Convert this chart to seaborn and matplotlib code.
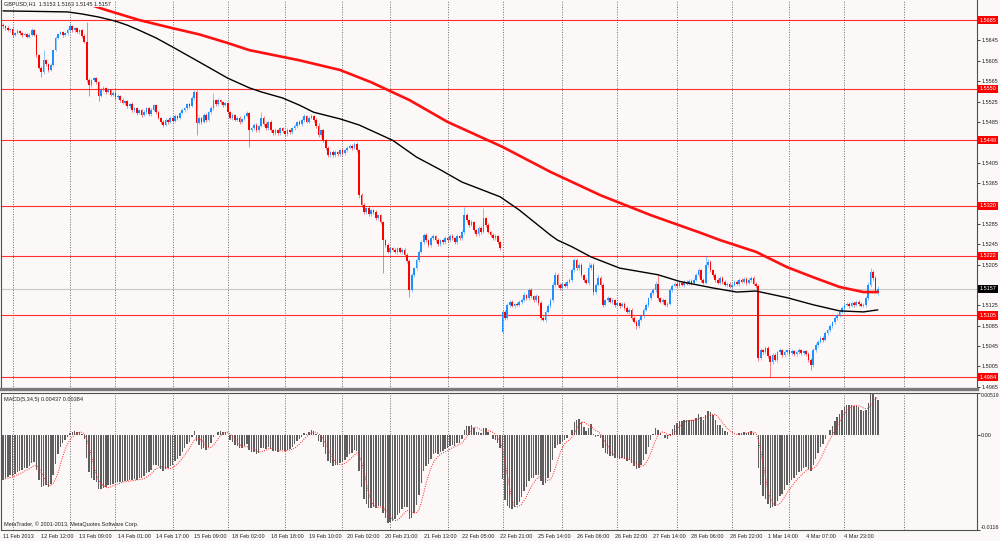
import numpy as np
import pandas as pd
import seaborn as sns
import matplotlib.pyplot as plt

# GBPUSD H1, closes in pips (1.5673 -> 15673), one row = 16 bars
close_pips = [
    15673, 15669, 15665, 15667, 15656, 15659, 15663, 15659, 15656, 15658, 15652, 15656, 15665, 15656, 15616, 15591,
    15583, 15606, 15599, 15587, 15597, 15626, 15650, 15658, 15661, 15656, 15659, 15665, 15673, 15665, 15669, 15661,
    15665, 15654, 15642, 15567, 15557, 15567, 15571, 15563, 15536, 15548, 15552, 15544, 15548, 15538, 15542, 15534,
    15536, 15528, 15522, 15526, 15516, 15520, 15508, 15512, 15502, 15508, 15499, 15504, 15512, 15500, 15508, 15518,
    15504, 15493, 15485, 15479, 15489, 15485, 15493, 15487, 15497, 15493, 15502, 15508, 15512, 15520, 15516, 15532,
    15544, 15483, 15493, 15485, 15499, 15489, 15504, 15512, 15528, 15520, 15528, 15524, 15518, 15522, 15504, 15493,
    15499, 15489, 15493, 15485, 15491, 15497, 15502, 15469, 15473, 15479, 15469, 15477, 15493, 15481, 15473, 15485,
    15469, 15463, 15469, 15463, 15473, 15467, 15461, 15469, 15465, 15473, 15477, 15485, 15481, 15489, 15497, 15485,
    15493, 15497, 15489, 15477, 15459, 15469, 15449, 15434, 15420, 15426, 15420, 15426, 15422, 15429, 15424, 15429,
    15434, 15438, 15434, 15442, 15429, 15341, 15322, 15308, 15316, 15304, 15312, 15308, 15296, 15302, 15288, 15253,
    15243, 15230, 15237, 15234, 15230, 15237, 15230, 15234, 15224, 15212, 15155, 15184, 15198, 15214, 15230, 15249,
    15263, 15253, 15243, 15257, 15261, 15253, 15245, 15253, 15249, 15257, 15253, 15261, 15257, 15249, 15261, 15257,
    15269, 15302, 15292, 15283, 15288, 15273, 15265, 15277, 15269, 15296, 15283, 15269, 15263, 15257, 15261, 15249,
    15237, 15112, 15101, 15126, 15132, 15124, 15128, 15126, 15132, 15135, 15145, 15139, 15155, 15143, 15135, 15143,
    15129, 15101, 15097, 15112, 15124, 15135, 15165, 15184, 15165, 15159, 15167, 15163, 15171, 15175, 15194, 15214,
    15198, 15204, 15184, 15175, 15169, 15198, 15204, 15151, 15165, 15179, 15165, 15126, 15135, 15139, 15132, 15135,
    15126, 15129, 15124, 15128, 15120, 15112, 15116, 15101, 15093, 15085, 15097, 15104, 15116, 15126, 15139, 15149,
    15155, 15167, 15139, 15132, 15135, 15126, 15128, 15155, 15163, 15167, 15163, 15169, 15165, 15171, 15167, 15173,
    15169, 15175, 15184, 15194, 15175, 15169, 15204, 15210, 15194, 15184, 15175, 15169, 15179, 15171, 15165, 15167,
    15161, 15165, 15171, 15167, 15175, 15171, 15177, 15169, 15175, 15179, 15167, 15163, 15022, 15037, 15033, 15041,
    15025, 15013, 15027, 15018, 15033, 15037, 15027, 15033, 15037, 15031, 15035, 15029, 15033, 15037, 15031, 15035,
    15029, 15018, 15008, 15037, 15047, 15053, 15061, 15057, 15071, 15076, 15084, 15092, 15100, 15106, 15112, 15120,
    15126, 15128, 15124, 15130, 15126, 15132, 15128, 15124, 15126, 15139, 15165, 15190, 15179, 15153, 15157,
]
# upper / lower shadow length in pips
wick_up = [
    3, 2, 4, 2, 3, 2, 4, 3, 2, 3, 2, 4, 4, 3, 2, 3,
    3, 20, 3, 2, 4, 3, 4, 2, 3, 2, 3, 4, 6, 3, 2, 3,
    3, 2, 3, 39, 4, 3, 2, 3, 2, 4, 3, 2, 3, 2, 4, 3,
    3, 2, 4, 3, 2, 3, 4, 2, 3, 3, 2, 4, 3, 2, 4, 3,
    2, 3, 2, 4, 3, 2, 3, 3, 4, 2, 3, 4, 3, 2, 3, 4,
    4, 3, 3, 2, 4, 3, 3, 4, 13, 3, 4, 2, 3, 3, 2, 3,
    3, 2, 4, 3, 2, 3, 4, 3, 2, 4, 3, 2, 11, 3, 3, 2,
    3, 2, 4, 3, 2, 3, 3, 4, 2, 3, 3, 2, 4, 3, 3, 2,
    3, 4, 2, 3, 6, 3, 2, 3, 3, 2, 4, 3, 2, 3, 4, 2,
    3, 4, 3, 3, 4, 3, 4, 3, 2, 4, 3, 2, 4, 3, 2, 3,
    3, 4, 2, 3, 4, 3, 2, 3, 4, 3, 3, 4, 3, 4, 3, 4,
    4, 3, 3, 4, 3, 2, 4, 3, 3, 4, 2, 3, 4, 3, 3, 2,
    3, 16, 4, 3, 4, 3, 2, 4, 3, 20, 3, 3, 2, 4, 3, 2,
    3, 3, 4, 3, 4, 3, 2, 4, 3, 5, 6, 3, 4, 3, 3, 4,
    3, 4, 3, 4, 3, 4, 5, 6, 4, 3, 4, 3, 4, 4, 5, 4,
    4, 5, 4, 3, 4, 12, 5, 4, 4, 5, 3, 4, 3, 5, 3, 4,
    3, 4, 3, 3, 4, 3, 3, 4, 3, 3, 4, 3, 4, 4, 3, 4,
    4, 6, 18, 3, 4, 3, 3, 4, 3, 4, 3, 3, 4, 3, 3, 4,
    3, 4, 4, 5, 3, 4, 18, 5, 4, 3, 4, 3, 4, 3, 3, 4,
    3, 4, 3, 3, 4, 3, 4, 3, 4, 3, 3, 3, 3, 4, 3, 5,
    4, 3, 5, 4, 3, 4, 3, 4, 3, 3, 4, 3, 3, 4, 3, 3,
    3, 4, 3, 5, 4, 3, 4, 3, 4, 3, 4, 3, 4, 4, 3, 4,
    3, 4, 3, 4, 3, 3, 4, 3, 3, 4, 5, 8, 4, 3, 6,
]
wick_dn = [
    3, 4, 2, 3, 4, 3, 2, 3, 4, 2, 3, 3, 2, 3, 4, 3,
    10, 3, 4, 3, 2, 3, 2, 3, 3, 4, 2, 3, 3, 3, 4, 2,
    3, 4, 3, 3, 21, 3, 4, 3, 10, 3, 2, 4, 3, 3, 2, 4,
    3, 4, 2, 3, 4, 3, 3, 4, 3, 2, 4, 3, 3, 4, 3, 2,
    4, 3, 4, 3, 2, 4, 3, 3, 2, 4, 3, 2, 3, 4, 3, 2,
    3, 24, 3, 4, 3, 4, 2, 3, 3, 4, 3, 3, 4, 2, 4, 3,
    4, 3, 3, 4, 3, 2, 3, 33, 3, 4, 3, 3, 2, 4, 3, 3,
    4, 3, 3, 4, 3, 3, 4, 3, 3, 4, 3, 3, 2, 3, 4, 3,
    3, 3, 4, 3, 3, 4, 3, 4, 4, 3, 3, 4, 3, 3, 4, 3,
    3, 3, 4, 3, 3, 5, 4, 3, 4, 3, 3, 4, 3, 4, 3, 65,
    4, 3, 4, 3, 3, 4, 3, 4, 3, 4, 14, 4, 3, 4, 4, 3,
    4, 4, 3, 4, 3, 4, 3, 4, 3, 3, 4, 3, 3, 4, 3, 4,
    3, 4, 3, 4, 3, 4, 3, 3, 4, 3, 4, 3, 4, 3, 3, 4,
    4, 2, 4, 3, 4, 3, 4, 3, 3, 4, 3, 4, 3, 4, 3, 3,
    4, 4, 3, 4, 3, 4, 3, 4, 4, 3, 4, 3, 4, 3, 4, 4,
    4, 3, 4, 4, 3, 4, 3, 6, 4, 3, 4, 4, 3, 4, 3, 4,
    4, 3, 4, 3, 4, 3, 4, 4, 3, 6, 4, 3, 4, 3, 4, 3,
    4, 3, 4, 3, 4, 3, 4, 3, 4, 3, 4, 3, 3, 4, 3, 3,
    4, 3, 3, 4, 4, 3, 3, 4, 4, 3, 4, 3, 3, 4, 3, 4,
    3, 4, 3, 3, 4, 3, 3, 4, 3, 4, 3, 4, 6, 4, 3, 4,
    4, 28, 4, 3, 4, 3, 4, 3, 4, 3, 3, 4, 3, 4, 3, 4,
    4, 4, 10, 4, 3, 4, 3, 4, 3, 4, 3, 4, 4, 3, 4, 3,
    4, 3, 4, 3, 4, 3, 4, 3, 3, 4, 4, 5, 4, 3, 8,
]
# opens differ from previous close only here (first bar, weekend gap)
open_gaps = {0: 15676, 209: 15073}

# moving averages (bar index, pips)
ma_black_bars = [0, 14, 27, 33, 40, 47, 52, 57, 64, 71, 82, 94, 103, 108, 117, 124, 130, 141, 149, 163,
                 173, 183, 192, 208, 216, 229, 232, 238, 246, 258, 274, 283, 297, 307, 315, 328, 339,
                 350, 360, 366]
ma_black_pips = [15703, 15702, 15701, 15697, 15691, 15683, 15675, 15665, 15650, 15632, 15603, 15571,
                 15552, 15544, 15532, 15518, 15504, 15491, 15479, 15449, 15416, 15391, 15367, 15338,
                 15312, 15263, 15253, 15240, 15220, 15198, 15185, 15172, 15159, 15151, 15153, 15140,
                 15126, 15114, 15112, 15116]
ma_red_bars = [32, 43, 57, 71, 82, 94, 103, 124, 141, 154, 170, 186, 209, 229, 250, 271, 292, 300,
               315, 328, 339, 350, 360, 366]
ma_red_pips = [15722, 15705, 15685, 15669, 15657, 15640, 15626, 15606, 15587, 15563, 15528, 15485,
               15436, 15387, 15341, 15302, 15267, 15253, 15230, 15200, 15180, 15161, 15151, 15151]

levels = [1.5685, 1.5550, 1.5449, 1.5320, 1.5222, 1.5105, 1.4984]
bid = 1.5157
grid_bars = [4, 28, 47, 71, 94, 118, 142, 162, 186, 209, 234, 257, 282, 305, 329, 352, 377]
xlabels = ["11 Feb 2013", "12 Feb 12:00", "13 Feb 09:00", "14 Feb 01:00", "14 Feb 17:00",
           "15 Feb 09:00", "18 Feb 02:00", "18 Feb 18:00", "19 Feb 10:00", "20 Feb 02:00",
           "20 Feb 21:00", "21 Feb 13:00", "22 Feb 05:00", "22 Feb 21:00", "25 Feb 14:00",
           "26 Feb 06:00", "26 Feb 22:00", "27 Feb 14:00", "28 Feb 06:00", "28 Feb 22:00",
           "1 Mar 14:00", "4 Mar 07:00", "4 Mar 23:00"]
label_step = 16
macd_fast, macd_slow, macd_sig = 5, 34, 5
ema_seed = (1.5672, 1.5730)   # EMA state before the first visible bar

# ---- build OHLC
close = np.array(close_pips) / 10000
opens = np.r_[np.nan, close[:-1]]
for k, v in open_gaps.items():
    opens[k] = v / 10000
high = np.maximum(opens, close) + np.array(wick_up) / 10000
low = np.minimum(opens, close) - np.array(wick_dn) / 10000
bars = np.arange(len(close))
bull = close >= opens


def ema(vals, n, seed):
    a = 2 / (n + 1)
    out = []
    e = seed
    for v in vals:
        e += a * (v - e)
        out.append(e)
    return np.array(out)


macd = ema(close, macd_fast, ema_seed[0]) - ema(close, macd_slow, ema_seed[1])
signal = pd.Series(macd).rolling(macd_sig, min_periods=1).mean().values

# ---- figure
bg = "#fcf8f7"
sns.set_style("white")
plt.rcParams['font.family'] = ['Liberation Sans', 'DejaVu Sans']
fs = 4.0

fig = plt.figure(figsize=(10, 5.41), dpi=100, facecolor=bg)
ax = fig.add_axes([0.001, 0.281, 0.976, 0.719])
ax2 = fig.add_axes([0.001, 0.0203, 0.976, 0.2532])
for a in (ax, ax2):
    a.set_facecolor(bg)
    for s in a.spines.values():
        s.set_color("#505050")
        s.set_linewidth(0.8)
    for g in grid_bars:
        a.axvline(g, color="#6a6a6a", lw=0.7, ls=(0, (1, 1.6)), zorder=1)
ax.spines['top'].set_visible(False)
ax.spines['bottom'].set_linewidth(2.4)
ax.spines['bottom'].set_color("#7a7a7a")

# horizontal levels
for lv in levels:
    ax.axhline(lv, color="#ff3030", lw=0.8, zorder=2)
ax.axhline(bid, color="#c8c8c8", lw=0.8, zorder=2)

# candles
col = np.where(bull, "#1e90ff", "#ff0000")
ax.vlines(bars, low, high, colors=col, lw=0.7, alpha=0.5, zorder=3)
body_h = np.maximum(np.abs(close - opens), 0.00008)
ax.bar(bars, body_h, bottom=np.minimum(opens, close), width=0.7, color=col, lw=0, zorder=4)

# moving averages
sns.lineplot(x=ma_red_bars, y=np.array(ma_red_pips) / 10000, ax=ax, color="#ff1010", lw=1.9, zorder=5)
sns.lineplot(x=ma_black_bars, y=np.array(ma_black_pips) / 10000, ax=ax, color="black", lw=1.0, zorder=6)

ax.set_ylim(1.49607, 1.57244)
ax.set_xlim(-0.84, 407.5)
ax.set_xticks([])
ax.yaxis.tick_right()
ticks = np.round(np.arange(1.4965, 1.5690, 0.004), 4)
ax.set_yticks(ticks)
# tick labels hidden under the level tags are left blank
marks = levels + [bid]
ax.set_yticklabels(["" if min(abs(t - m) for m in marks) < 0.0010 else f"{t:.4f}" for t in ticks])
ax.tick_params(axis='y', length=2, width=0.6, pad=1, labelsize=fs, colors="#202020")
ax.set_xlabel("")
ax.set_ylabel("")

ytr = ax.get_yaxis_transform()
for lv in levels:
    ax.text(1.0025, lv, f"{lv:.4f}", transform=ytr, color="white", fontsize=fs, va="center", ha="left",
            bbox=dict(boxstyle="square,pad=0.3", fc="#ff0000", ec="none"), zorder=10, clip_on=False)
ax.text(1.0025, bid, f"{bid:.4f}", transform=ytr, color="white", fontsize=fs, va="center", ha="left",
        bbox=dict(boxstyle="square,pad=0.3", fc="black", ec="none"), zorder=10, clip_on=False)

ax.text(0.003, 0.991, "GBPUSD,H1  1.5153 1.5163 1.5145 1.5157", transform=ax.transAxes, fontsize=fs,
        va="center", ha="left", color="#202020", zorder=12,
        bbox=dict(boxstyle="square,pad=0.2", fc=bg, ec="none"))

# MACD panel
sns.barplot(x=bars, y=macd, native_scale=True, ax=ax2, color="#5e5e5e", width=0.6,
            errorbar=None, saturation=1, linewidth=0, zorder=3)
ax2.plot(bars, signal, color="#ff2020", lw=0.7, ls=(0, (1, 1.4)), zorder=4)
ax2.set_ylim(-0.0116, 0.00519)
ax2.set_xlim(-0.84, 407.5)
ax2.set_xlabel("")
ax2.set_ylabel("")
ax2.yaxis.tick_right()
ax2.set_yticks([-0.0116, 0.0, 0.00519])
ax2.set_yticklabels(["-0.0116", "0.00", "0.00519"])
ax2.tick_params(axis='y', length=2, width=0.6, pad=0.8, labelsize=fs, colors="#202020")
ylab = ax2.get_yticklabels()
ylab[0].set_va("bottom")
ylab[2].set_va("top")
ylab[2].set_fontsize(3.7)
xt = bars[::label_step]
ax2.set_xticks(xt)
ax2.set_xticklabels(xlabels[:len(xt)], ha="left")
ax2.tick_params(axis='x', length=2, width=0.6, pad=1, labelsize=fs, colors="#202020")

ax2.text(0.003, 0.955, "MACD(5,34,5) 0.00437 0.00384", transform=ax2.transAxes, fontsize=fs,
         va="center", ha="left", color="#202020")
ax2.text(0.003, 0.045, "MetaTrader, \u00a9 2001-2013, MetaQuotes Software Corp.", transform=ax2.transAxes,
         fontsize=fs, va="center", ha="left", color="#202020")

fig.savefig("out.png", dpi=100, facecolor=bg)
